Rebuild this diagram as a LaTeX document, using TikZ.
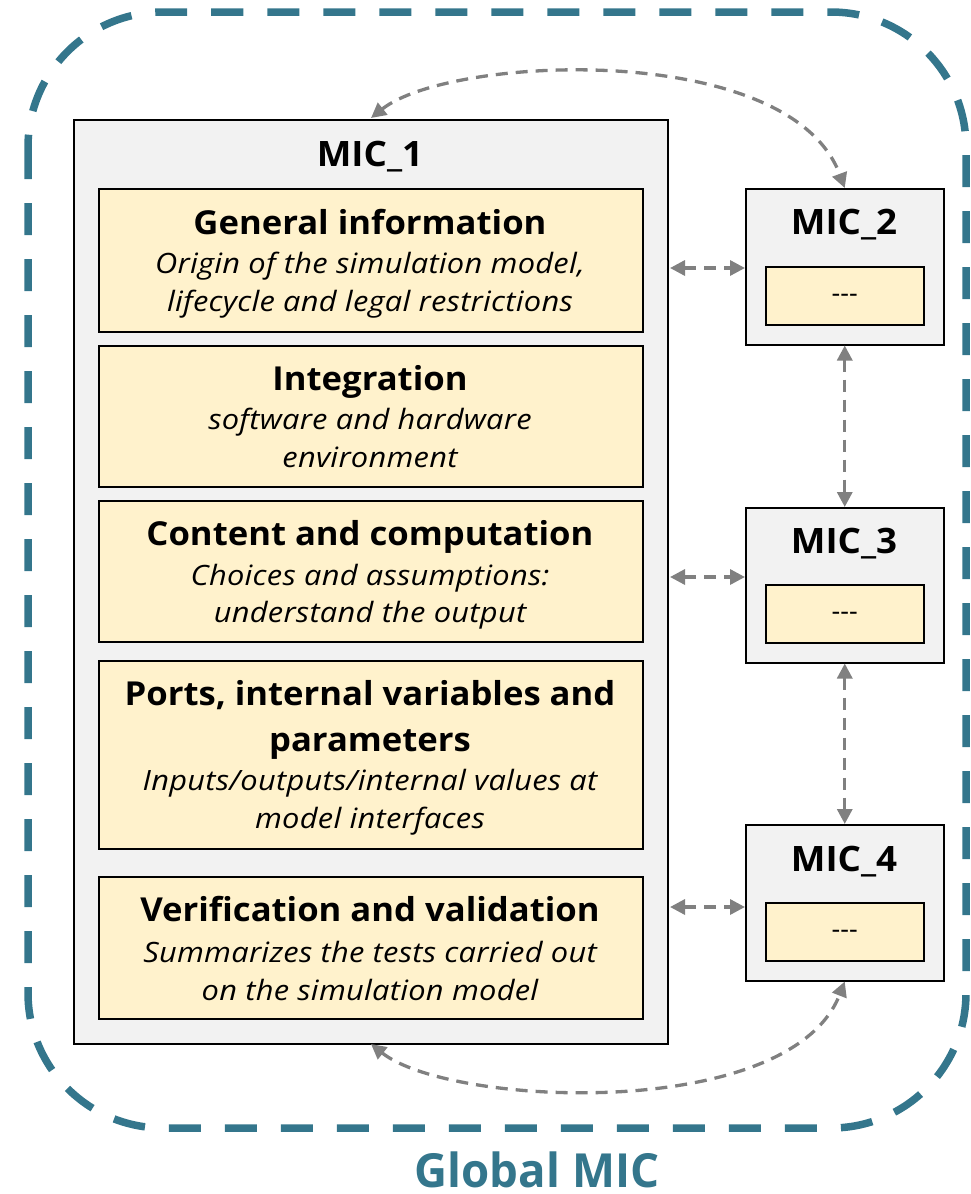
\documentclass[tikz,border=0pt]{standalone}
\usepackage{fontspec}
\setmainfont{Open Sans}
\newfontfamily\ttlfont{Open Sans}[FakeStretch=1.05]
\newfontfamily\subfont{Open Sans}[FakeStretch=1.1, LetterSpace=1]
\newfontfamily\lblfont{Open Sans}[FakeStretch=0.97]
\usetikzlibrary{arrows.meta}
\definecolor{teal1}{RGB}{52,118,140}
\definecolor{boxgray}{RGB}{242,242,242}
\definecolor{boxyel}{RGB}{255,242,204}
\definecolor{arrgray}{RGB}{128,128,128}
\tikzset{
  outerbox/.style={draw=black, line width=1.5pt, fill=boxgray, inner sep=0pt, anchor=north west},
  innerbox/.style={draw=black, line width=1.5pt, fill=boxyel, inner sep=0pt, anchor=north west},
  ttl/.style={font=\ttlfont\bfseries\fontsize{33}{40}\selectfont, inner sep=0pt, anchor=base},
  micttl/.style={font=\ttlfont\bfseries\fontsize{35}{42}\selectfont, inner sep=0pt, anchor=base},
  sub/.style={font=\subfont\itshape\fontsize{28}{33}\selectfont, inner sep=0pt, anchor=base},
  dashtxt/.style={font=\fontsize{27}{32}\selectfont, inner sep=0pt},
  biarrow/.style={draw=arrgray, line width=3.3pt, dash pattern=on 12pt off 8pt,
    {Triangle[length=15pt,width=15pt]}-{Triangle[length=15pt,width=15pt]}},
}
\begin{document}
\begin{tikzpicture}[x=1pt,y=-1pt]
\useasboundingbox (0,0) rectangle (971,1194);
% global
\draw[teal1, line width=7.5pt, dash pattern=on 32pt off 24pt, rounded corners=135pt] (28,12) rectangle (966,1128);
\node[font=\lblfont\bfseries\fontsize{47}{56}\selectfont, text=teal1, inner sep=0pt, anchor=base] (glabel) at (537,1187) {Global MIC};
% MIC_1
\node[outerbox, minimum width=594pt, minimum height=924pt] (mic1) at (73,119) {};
\node[micttl] (t1) at (370,166) {MIC\_1};
\node[innerbox, minimum width=544pt, minimum height=143pt] (b1) at (98,188) {};
\node[ttl] (b1t) at (370,234) {General information};
\node[sub] (b1s1) at (370,273) {Origin of the simulation model,};
\node[sub] (b1s2) at (370,311) {lifecycle and legal restrictions};
\node[innerbox, minimum width=544pt, minimum height=141pt] (b2) at (98,345) {};
\node[ttl] (b2t) at (370,390) {Integration};
\node[sub] (b2s1) at (370,429) {software and hardware};
\node[sub] (b2s2) at (370,467) {environment};
\node[innerbox, minimum width=544pt, minimum height=141pt] (b3) at (98,500) {};
\node[ttl] (b3t) at (370,545) {Content and computation};
\node[sub] (b3s1) at (370,585) {Choices and assumptions:};
\node[sub] (b3s2) at (370,622) {understand the output};
\node[innerbox, minimum width=544pt, minimum height=188pt] (b4) at (98,660) {};
\node[ttl] (b4t1) at (370,705) {Ports, internal variables and};
\node[ttl] (b4t2) at (370,751) {parameters};
\node[sub] (b4s1) at (370,790) {Inputs/outputs/internal values at};
\node[sub] (b4s2) at (370,828) {model interfaces};
\node[innerbox, minimum width=544pt, minimum height=142pt] (b5) at (98,876) {};
\node[ttl] (b5t) at (370,921) {Verification and validation};
\node[sub] (b5s1) at (370,962) {Summarizes the tests carried out};
\node[sub] (b5s2) at (370,1000) {on the simulation model};
% MIC_2..4
\node[outerbox, minimum width=198pt, minimum height=156pt] (mic2) at (745,188) {};
\node[micttl] (t2) at (844,234) {MIC\_2};
\node[innerbox, minimum width=158pt, minimum height=58pt] (i2) at (765,266) {};
\node[dashtxt] (d2) at ([yshift=-3pt]i2.center) {-{}-{}-};
\node[outerbox, minimum width=198pt, minimum height=155pt] (mic3) at (745,507) {};
\node[micttl] (t3) at (844,553) {MIC\_3};
\node[innerbox, minimum width=158pt, minimum height=58pt] (i3) at (765,584) {};
\node[dashtxt] (d3) at ([yshift=-3pt]i3.center) {-{}-{}-};
\node[outerbox, minimum width=198pt, minimum height=156pt] (mic4) at (745,824) {};
\node[micttl] (t4) at (844,871) {MIC\_4};
\node[innerbox, minimum width=158pt, minimum height=58pt] (i4) at (765,902) {};
\node[dashtxt] (d4) at ([yshift=-3pt]i4.center) {-{}-{}-};
% arrows
\coordinate (a2) at (670,268);
\coordinate (a3) at (670,577);
\coordinate (a4) at (670,907);
\draw[biarrow] (a2) -- (mic2.west |- a2);
\draw[biarrow] (a3) -- (mic3.west |- a3);
\draw[biarrow] (a4) -- (mic4.west |- a4);
\draw[biarrow] (mic2.south) -- (mic3.north);
\draw[biarrow] (mic3.south) -- (mic4.north);
\coordinate (ct) at (371,118);
\coordinate (cb) at (371,1044);
\draw[biarrow] (ct) .. controls (450,55) and (790,40) .. (mic2.north);
\draw[biarrow] (cb) .. controls (450,1107) and (790,1122) .. (mic4.south);
\end{tikzpicture}
\end{document}
